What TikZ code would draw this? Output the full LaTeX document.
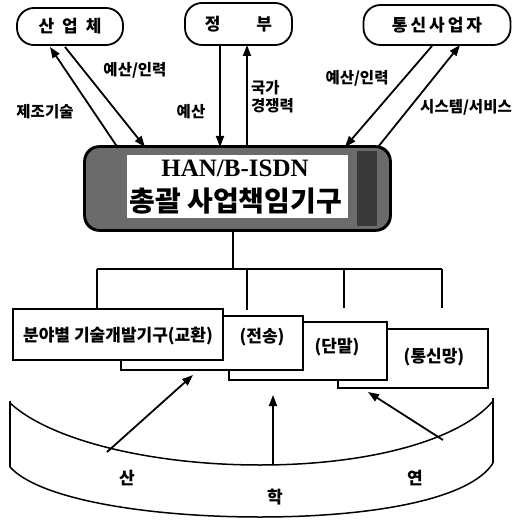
\documentclass[tikz,border=0pt]{standalone}
\usepackage{fontspec}
\newfontfamily\kr{Noto Sans CJK KR}
\newfontfamily\ser{Liberation Serif}
\usetikzlibrary{arrows.meta}
\tikzset{
  topbox/.style={draw, line width=1.8pt, rounded corners=17pt, fill=white, inner sep=0pt,
    font=\kr\bfseries\fontsize{17}{19}\selectfont},
  arr/.style={line width=1.8pt, -{Triangle[length=11pt,width=8pt]}},
  lbl/.style={font=\kr\bfseries\fontsize{15.5}{18}\selectfont, inner sep=0pt},
  tree/.style={line width=1.4pt},
  subbox/.style={draw, line width=1.5pt, fill=white, inner sep=0pt},
  subtxt/.style={font=\kr\bfseries\fontsize{17}{19}\selectfont, inner sep=0pt},
  dish/.style={line width=1.5pt},
}
\begin{document}
\begin{tikzpicture}[x=1pt,y=-1pt]
\useasboundingbox (0,0) rectangle (519,521);
% top boxes
\node[topbox, minimum width=106pt, minimum height=37pt] (ind) at (70,26.5) {산\hspace{8pt}업\hspace{8pt}체};
\node[topbox, minimum width=107pt, minimum height=42pt] (gov) at (238.5,24) {정\hspace{36pt}부};
\node[topbox, minimum width=147pt, minimum height=40pt] (tel) at (437,25) {통\hspace{3pt}신\hspace{3pt}사\hspace{3pt}업\hspace{3pt}자};
% central box
\node[draw, line width=1.8pt, rounded corners=15pt, fill=black!58, minimum width=305pt, minimum height=83pt] (hub) at (237.5,188.5) {};
\fill[black!78] (357,151) rectangle (377,226);
\draw[line width=1.8pt, rounded corners=15pt] (hub.north west) rectangle (hub.south east);
\node[fill=white, minimum width=221pt, minimum height=63pt, inner sep=0pt] (hubin) at (237.5,186.5) {};
\node[font=\ser\bfseries\fontsize{25}{27}\selectfont, inner sep=0pt] (hubt1) at (235,168) {HAN/B-ISDN};
\node[font=\kr\bfseries\fontsize{28}{30}\selectfont, inner sep=0pt] (hubt2) at (236,201) {총괄\hspace{6pt}사업책임기구};
% arrow endpoints
\coordinate (a1s) at (118,148); \coordinate (a1e) at (50,47);
\coordinate (a2s) at (65,47);   \coordinate (a2e) at (145,147);
\coordinate (a3s) at (220,45);  \coordinate (a3e) at (220,147);
\coordinate (a4s) at (247,147); \coordinate (a4e) at (247,45);
\coordinate (a5s) at (432,46);  \coordinate (a5e) at (345,147);
\coordinate (a6s) at (378,147); \coordinate (a6e) at (460,45);
\draw[arr] (a1s) -- (a1e);
\draw[arr] (a2s) -- (a2e);
\draw[arr] (a3s) -- (a3e);
\draw[arr] (a4s) -- (a4e);
\draw[arr] (a5s) -- (a5e);
\draw[arr] (a6s) -- (a6e);
% labels
\node[lbl] (l1) at (45,112) {제조기술};
\node[lbl] (l2) at (135,70) {예산/인력};
\node[lbl] (l3) at (191,112) {예산};
\node[lbl, align=left, anchor=west] (l4) at (251,97) {국가\\경쟁력};
\node[lbl] (l5) at (357,78) {예산/인력};
\node[lbl] (l6) at (466,107) {시스템/서비스};
% tree
\coordinate (t0) at (233,230);
\coordinate (t1) at (233,269);
\coordinate (h1) at (97,269); \coordinate (h2) at (247,269); \coordinate (h3) at (344,269); \coordinate (h4) at (442,269);
\coordinate (d1) at (97,309); \coordinate (d2) at (247,310); \coordinate (d3) at (344,308); \coordinate (d4) at (442,308);
\draw[tree] (hub.south -| t0) -- (t1);
\draw[tree] (h1) -- (h4);
\draw[tree] (h1) -- (d1);
\draw[tree] (h2) -- (d2);
\draw[tree] (h3) -- (d3);
\draw[tree] (h4) -- (d4);
% stacked boxes
\node[subbox, minimum width=150pt, minimum height=59pt] (b4) at (413,358.5) {};
\node[subbox, minimum width=158pt, minimum height=58pt] (b3) at (308,351) {};
\node[subbox, minimum width=182pt, minimum height=54pt] (b2) at (212,343) {};
\node[subbox, minimum width=210pt, minimum height=51pt] (b1) at (118,334.5) {};
\node[subtxt] (s1) at (118,336) {분야별\hspace{4pt}기술개발기구(교환)};
\node[subtxt] (s2) at (262,337) {(전송)};
\node[subtxt] (s3) at (337,347) {(단말)};
\node[subtxt] (s4) at (434,357) {(통신망)};
% dish
\draw[dish] (10,401) -- (10,467);
\draw[dish] (493,398) -- (493,463);
\draw[dish] (10,403) .. controls (50,440) and (150,465) .. (260,465) .. controls (370,465) and (460,440) .. (493,401);
\draw[dish] (10,467) .. controls (40,500) and (150,517) .. (260,517) .. controls (370,517) and (470,500) .. (493,463);
\coordinate (p1) at (107,452); \coordinate (q1) at (193,375);
\coordinate (p2) at (273,465); \coordinate (q2) at (273,395);
\coordinate (p3) at (443,440); \coordinate (q3) at (368,392);
\draw[arr] (p1) -- (q1);
\draw[arr] (p2) -- (q2);
\draw[arr] (p3) -- (q3);
\node[subtxt] (k1) at (127,478) {산};
\node[subtxt] (k2) at (275,497) {학};
\node[subtxt] (k3) at (415,478) {연};
\end{tikzpicture}
\end{document}
